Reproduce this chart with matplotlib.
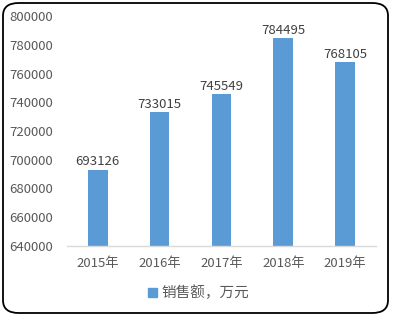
import matplotlib

matplotlib.use("Agg")
from matplotlib import pyplot as plt
from matplotlib.patches import FancyBboxPatch, Patch

plt.rcParams["font.family"] = ["Noto Sans CJK SC", "DejaVu Sans"]

years = ["2015年", "2016年", "2017年", "2018年", "2019年"]
sales = [693126, 733015, 745549, 784495, 768105]
y_ticks = [640000, 660000, 680000, 700000, 720000, 740000, 760000, 780000, 800000]
series_name = "销售额，万元"

BAR_COLOR = "#5B9BD5"
TEXT_COLOR = "#595959"

fig = plt.figure(figsize=(3.93, 3.17), dpi=100)
ax = fig.add_axes([0.170, 0.224, 0.787, 0.7255])

xs = list(range(len(years)))
bars = ax.bar(xs, sales, width=0.32, color=BAR_COLOR, zorder=2)
for x, v in zip(xs, sales):
    ax.text(x, v + 800, str(v), ha="center", va="bottom", fontsize=9.5, color="#404040")

ax.set_xlim(-0.5, len(years) - 0.5)
ax.set_ylim(y_ticks[0], y_ticks[-1])
ax.set_yticks(y_ticks)
ax.set_yticklabels([str(t) for t in y_ticks])
ax.set_xticks(xs)
ax.set_xticklabels(years)
ax.tick_params(axis="y", length=0, pad=10, labelsize=9.5, labelcolor=TEXT_COLOR)
ax.tick_params(axis="x", length=0, pad=8, labelsize=9.5, labelcolor=TEXT_COLOR)

for side in ("top", "right", "left"):
    ax.spines[side].set_visible(False)
ax.spines["bottom"].set_color("#D9D9D9")
ax.spines["bottom"].set_linewidth(1.0)

fig.legend(
    handles=[Patch(color=BAR_COLOR, label=series_name)],
    loc="center",
    bbox_to_anchor=(0.505, 0.076),
    frameon=False,
    fontsize=10.5,
    handlelength=0.6,
    handleheight=0.6,
    handletextpad=0.3,
    labelcolor=TEXT_COLOR,
)

border = FancyBboxPatch(
    (3 / 393, 4 / 317),
    385 / 393,
    310 / 317,
    boxstyle="round,pad=0,rounding_size=0.04",
    transform=fig.transFigure,
    facecolor="none",
    edgecolor="black",
    linewidth=1.3,
)
fig.patches.append(border)

fig.savefig("out.png", dpi=100)
